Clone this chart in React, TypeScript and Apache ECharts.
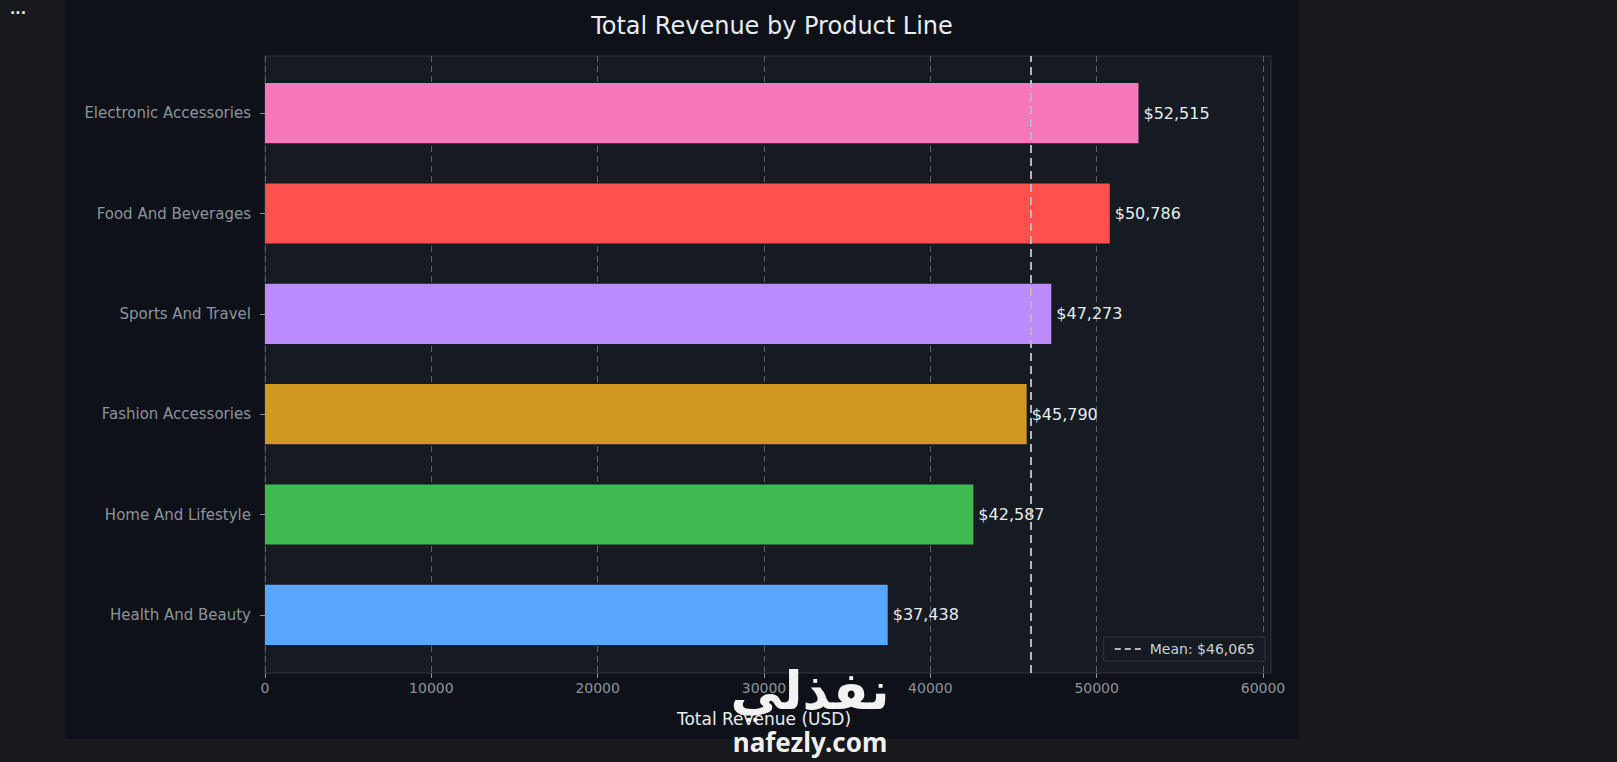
import React, { useEffect, useRef } from "react";
import * as echarts from "echarts";

const categories = ["Electronic Accessories", "Food And Beverages", "Sports And Travel", "Fashion Accessories", "Home And Lifestyle", "Health And Beauty"];
const revenue = [52515, 50786, 47273, 45790, 42587, 37438];
const colors = ["#f778ba", "#ff5050", "#bc8cff", "#d29922", "#3fb950", "#58a6ff"];
const meanValue = 46065;
const xTicks = [0, 10000, 20000, 30000, 40000, 50000, 60000];

export default function App() {
  const ref = useRef<HTMLDivElement>(null);
  useEffect(() => {
    document.body.style.margin = "0";
    const chart = echarts.init(ref.current!, null, { renderer: "svg" });
    const font = "DejaVu Sans";
    chart.setOption({
      animation: false,
      backgroundColor: "#17191c",
      textStyle: { fontFamily: font },
      graphic: [
        { type: "rect", z: -10, shape: { x: 65, y: 0, width: 1234, height: 739 }, style: { fill: "#0e1117" } },
        { type: "rect", z: -9, shape: { x: 265, y: 56, width: 1006, height: 617 }, style: { fill: "#161b22", stroke: "#30363d", lineWidth: 1 } },
        { type: "text", left: 10, top: 2, style: { text: "...", fill: "#e6edf3", font: "bold 14px DejaVu Sans" } },
        { type: "text", z: 100, x: 810, y: 688, style: { text: "نفذلي", fill: "rgba(255,255,255,0.95)", font: "bold 52px 'Noto Sans', DejaVu Sans", align: "center", verticalAlign: "middle" } },
        { type: "text", z: 100, x: 810, y: 742, style: { text: "nafezly.com", fill: "rgba(255,255,255,0.95)", font: "bold 26px 'Noto Sans', DejaVu Sans", align: "center", verticalAlign: "middle" } },
      ],
      title: {
        text: "Total Revenue by Product Line",
        left: 767, top: 9, textAlign: "center",
        textStyle: { color: "#e6edf3", fontSize: 24, fontWeight: "normal", fontFamily: font },
      },
      legend: {
        right: 352, top: 637,
        backgroundColor: "#161b22", borderColor: "#30363d", borderWidth: 1, padding: [5, 10],
        itemWidth: 30, itemHeight: 12,
        itemStyle: { opacity: 0 },
        textStyle: { color: "#c9d1d9", fontSize: 14 },
        data: ["Mean: $46,065"],
      },
      grid: [
        { left: 265, right: 354, top: 56, bottom: 89 },
        { left: 265, right: 354, top: 63, bottom: 97 },
      ],
      xAxis: [
        {
          type: "value", gridIndex: 0, min: 0, max: 60000, interval: 10000,
          name: "Total Revenue (USD)", nameLocation: "middle", nameGap: 37,
          nameTextStyle: { color: "#e6edf3", fontSize: 17 },
          axisLabel: { color: "#8b949e", fontSize: 14, formatter: (v: number) => (xTicks.includes(v) ? String(v) : "") },
          axisTick: { show: true, lineStyle: { color: "#8b949e" } },
          axisLine: { show: false },
          splitLine: { show: true, lineStyle: { color: "#5a6068", type: [6, 4], width: 1 } },
        },
        { type: "value", gridIndex: 1, min: 0, max: 60000, interval: 10000, show: false, splitLine: { show: false } },
      ],
      yAxis: [
        { type: "value", gridIndex: 0, min: 0, max: 1, show: false, splitLine: { show: false } },
        {
          type: "category", gridIndex: 1, data: categories, inverse: true,
          axisLabel: { color: "#8b949e", fontSize: 15, margin: 14 },
          axisTick: { show: true, length: 5, lineStyle: { color: "#8b949e" }, alignWithLabel: true },
          axisLine: { show: false },
        },
      ],
      series: [
        {
          type: "bar", xAxisIndex: 1, yAxisIndex: 1, barWidth: "60%",
          data: revenue.map((v, i) => ({ value: v, itemStyle: { color: colors[i] } })),
          label: { show: true, position: "right", distance: 5, color: "#e6edf3", fontSize: 16, formatter: (p: any) => "$" + p.value.toLocaleString("en-US") },
        },
        {
          type: "line", name: "Mean: $46,065", xAxisIndex: 0, yAxisIndex: 0, data: [],
          itemStyle: { color: "#b0b4ba" },
          lineStyle: { color: "#b0b4ba", type: [6, 4], width: 2 },
          symbol: "none",
          markLine: {
            silent: true, symbol: "none", label: { show: false },
            lineStyle: { color: "#b4b8be", type: [8, 5], width: 2 },
            data: [{ xAxis: meanValue }],
          },
        },
      ],
    });
    return () => chart.dispose();
  }, []);
  return <div ref={ref} style={{ width: 1617, height: 762 }} />;
}
